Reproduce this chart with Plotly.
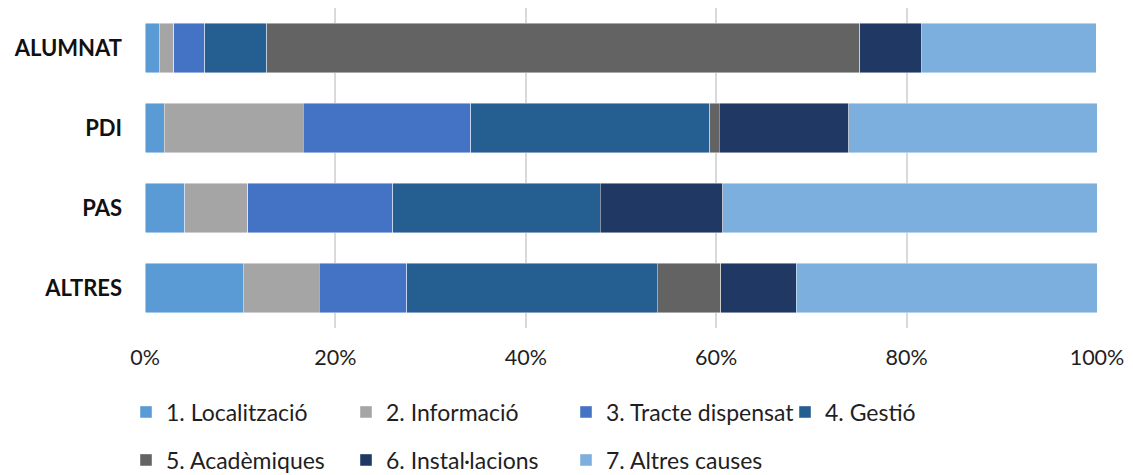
import plotly.graph_objects as go

categories = ["ALUMNAT", "PDI", "PAS", "ALTRES"]
series_names = ["1. Localització", "2. Informació", "3. Tracte dispensat", "4. Gestió",
                "5. Acadèmiques", "6. Instal·lacions", "7. Altres causes"]
localitzacio = [1.5, 2.0, 4.2, 10.3]
informacio = [1.5, 14.6, 6.6, 8.0]
tracte = [3.3, 17.6, 15.2, 9.2]
gestio = [6.5, 25.1, 21.8, 26.3]
academiques = [62.3, 1.0, 0.0, 6.7]
installacions = [6.5, 13.6, 12.9, 7.9]
altres = [18.3, 26.1, 39.3, 31.6]
series_values = [localitzacio, informacio, tracte, gestio, academiques, installacions, altres]
tick_vals = [0, 20, 40, 60, 80, 100]
tick_text = ["0%", "20%", "40%", "60%", "80%", "100%"]

colors = ["#5B9BD5", "#A5A5A5", "#4472C4", "#255E91", "#636363", "#1F3864", "#7CAFDD"]
FONT = "Lato"

# legend placement (container coords), mimicking the two-row Excel legend
row1, row2 = 1 - 412 / 475, 1 - 460 / 475
c1, c2, c3, c4 = 126 / 1133, 346 / 1133, 566 / 1133, 785 / 1133
leg_pos = [(c1, row1), (c2, row1), (c3, row1), (c4, row1),
           (c1, row2), (c2, row2), (c3, row2)]

fig = go.Figure()
for i, (name, vals) in enumerate(zip(series_names, series_values)):
    lk = "legend" if i == 0 else f"legend{i+1}"
    fig.add_trace(go.Bar(
        y=categories, x=vals, name=name, orientation="h",
        marker=dict(color=colors[i], line=dict(color="rgba(255,255,255,0.55)", width=0.8)),
        legend=lk,
    ))

layout_legends = {}
for i, (lx, ly) in enumerate(leg_pos):
    lk = "legend" if i == 0 else f"legend{i+1}"
    layout_legends[lk] = dict(
        x=lx, y=ly, xref="container", yref="container", xanchor="left", yanchor="middle",
        orientation="h", bgcolor="rgba(0,0,0,0)", borderwidth=0,
        font=dict(family=FONT, size=23, color="#1f1f1f"),
        itemwidth=30, tracegroupgap=0,
    )

fig.update_layout(
    barmode="stack",
    bargap=0.38,
    width=1133, height=475,
    margin=dict(l=145, r=36, t=8, b=147, autoexpand=False),
    paper_bgcolor="white", plot_bgcolor="white",
    showlegend=True,
    font=dict(family=FONT, color="#1f1f1f"),
    xaxis=dict(
        range=[0, 100], tickvals=tick_vals, ticktext=tick_text,
        showgrid=True, gridcolor="#D9D9D9", gridwidth=1.5,
        zeroline=False, showline=False, ticks="",
        ticklabelstandoff=14,
        tickfont=dict(family=FONT, size=21.5, color="#1f1f1f"),
        fixedrange=True,
    ),
    yaxis=dict(
        categoryorder="array", categoryarray=categories, autorange="reversed",
        showgrid=False, zeroline=False, showline=False, ticks="",
        ticklabelstandoff=22,
        tickfont=dict(family=FONT, size=22, color="#111111", weight="bold"),
        fixedrange=True,
    ),
    **layout_legends,
)

fig.write_html("out.html")
